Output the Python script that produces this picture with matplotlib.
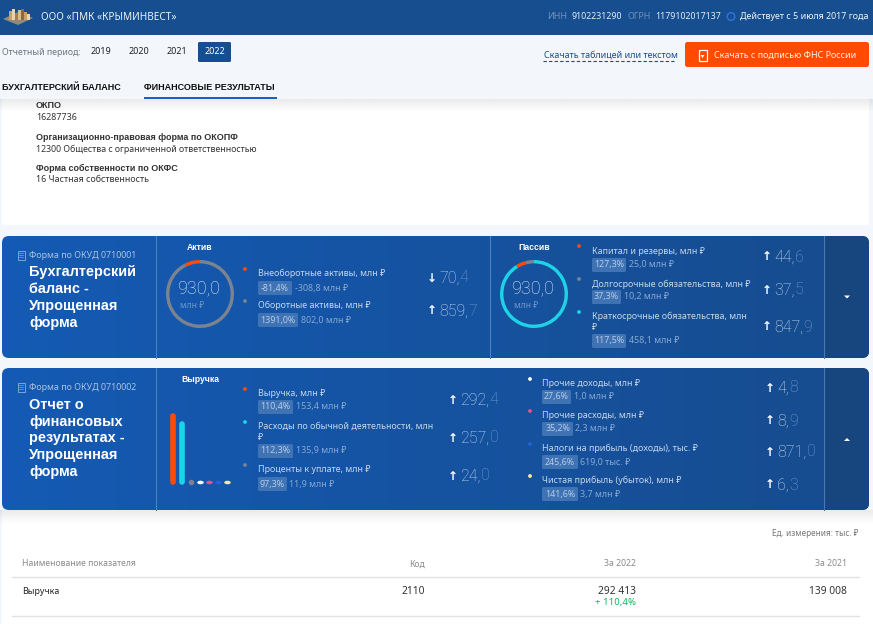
import numpy as np
import matplotlib
matplotlib.use("Agg")
import matplotlib.pyplot as plt
from matplotlib.patches import Rectangle, FancyBboxPatch, Polygon, Circle
from matplotlib.path import Path
from matplotlib.transforms import Affine2D

W, H = 873, 624
BODY = ['Noto Sans', 'DejaVu Sans']
BOLD = ['Liberation Sans', 'DejaVu Sans']
THIN = ['Roboto', 'DejaVu Sans']

# ---------- data ----------
company = "ООО «ПМК «КРЫМИНВЕСТ»"
inn = "9102231290"
ogrn = "1179102017137"
active_since = "Действует с 5 июля 2017 года"
years = ["2019", "2020", "2021", "2022"]

asset_values = [70.4, 859.7]
asset_colors = ['#ff4a0a', '#7c8390']
liab_values = [37.5, 44.6, 847.9]
liab_colors = ['#7c8390', '#ff4a0a', '#1fd3e6']
balance_total = "930,0"

asset_rows = [
    ("Внеоборотные активы, млн ₽", "-81,4%", "-308,8 млн ₽", "70,4", "↓"),
    ("Оборотные активы, млн ₽", "1391,0%", "802,0 млн ₽", "859,7", "↑"),
]
liab_rows = [
    ("Капитал и резервы, млн ₽", "127,3%", "25,0 млн ₽", "44,6", "↑"),
    ("Долгосрочные обязательства, млн ₽", "37,3%", "10,2 млн ₽", "37,5", "↑"),
    ("Краткосрочные обязательства, млн\n₽", "117,5%", "458,1 млн ₽", "847,9", "↑"),
]
pnl_rows_left = [
    ("Выручка, млн ₽", "110,4%", "153,4 млн ₽", "292,4", "↑"),
    ("Расходы по обычной деятельности, млн\n₽", "112,3%", "135,9 млн ₽", "257,0", "↑"),
    ("Проценты к уплате, млн ₽", "97,3%", "11,9 млн ₽", "24,0", "↑"),
]
pnl_rows_right = [
    ("Прочие доходы, млн ₽", "27,6%", "1,0 млн ₽", "4,8", "↑"),
    ("Прочие расходы, млн ₽", "35,2%", "2,3 млн ₽", "8,9", "↑"),
    ("Налоги на прибыль (доходы), тыс. ₽", "245,6%", "619,0 тыс. ₽", "871,0", "↑"),
    ("Чистая прибыль (убыток), млн ₽", "141,6%", "3,7 млн ₽", "6,3", "↑"),
]
pnl_values = [292.4, 257.0, 24.0, 4.8, 8.9, 0.871, 6.3]
pnl_colors = ['#ff4a0a', '#1fd3e6', '#7c8390', '#ffffff', '#e8508f', '#2461dc', '#f4ee9a']

table_header = ["Наименование показателя", "Код", "За 2022", "За 2021"]
table_row = ["Выручка", "2110", "292 413", "139 008"]
table_delta = "+ 110,4%"

# ---------- canvas ----------
fig = plt.figure(figsize=(W / 100, H / 100), dpi=100, facecolor='#f3f6fb')
ax = fig.add_axes([0, 0, 1, 1])
ax.set_xlim(0, W)
ax.set_ylim(H, 0)
ax.axis('off')
renderer = fig.canvas.get_renderer()


def px(s):
    return s * 0.72


def T(x, y, s, size=9, color='#333333', ha='left', weight='normal', family=None, z=10, **kw):
    if family is None:
        family = BOLD if weight == 'bold' else BODY
    return ax.text(x, y, s, fontsize=px(size), color=color, ha=ha, va='center',
                   fontweight=weight, family=family, zorder=z, **kw)


def rect(x0, y0, x1, y1, color, z=1, **kw):
    r = Rectangle((x0, y0), x1 - x0, y1 - y0, facecolor=color, edgecolor='none', zorder=z, **kw)
    ax.add_patch(r)
    return r


def rrect(x0, y0, x1, y1, color, rad=2, z=2, **kw):
    r = FancyBboxPatch((x0 + rad, y0 + rad), x1 - x0 - 2 * rad, y1 - y0 - 2 * rad,
                       boxstyle=f"round,pad={rad},rounding_size={rad}",
                       facecolor=color, edgecolor='none', zorder=z, **kw)
    ax.add_patch(r)
    return r


def shadow(x0, x1, y0, y1, z=1.5, a=0.10):
    g = np.linspace(a, 0, 32).reshape(-1, 1)
    rgba = np.zeros((32, 1, 4))
    rgba[..., :3] = 0.2
    rgba[..., 3] = g
    ax.imshow(rgba, extent=[x0, x1, y1, y0], aspect='auto', zorder=z, interpolation='bilinear')


def inset(x, y, w, h):
    a = fig.add_axes([x / W, 1 - (y + h) / H, w / W, h / H])
    a.patch.set_alpha(0)
    a.axis('off')
    a.set_zorder(5)
    return a


# ---------- backgrounds ----------
rect(2, 99, 869, 225, 'white', z=1)
rect(2, 510, 873, 624, 'white', z=1)
rect(0, 0, W, 35, '#164e90', z=3)
rect(0, 35, W, 99, '#f3f6fb', z=3)
shadow(0, W, 99, 112, z=3)
shadow(0, W, 510, 524, z=3)

# logo
ax.add_patch(Polygon([[3, 19], [18, 12], [33, 18], [18, 25]], facecolor='#8f8a7d', edgecolor='none', zorder=4))
for lx, top, c in zip([9, 12, 15, 18, 21, 24, 27], [11, 9, 13, 10, 9, 12, 14],
                      ['#c9a06a', '#e8d5b0', '#a67c4a', '#d8bd8a', '#8a6a42', '#c9a06a', '#e8d5b0']):
    rect(lx, top, lx + 2.6, 20, c, z=4.2)

# header
T(41, 17, company, 10, '#eaf0f8', z=6)
T(547, 16.5, "ИНН", 8.9, '#6f8fb8', z=6)
T(571, 16.5, inn, 8.8, '#e4ebf5', z=6)
T(628, 16.5, "ОГРН", 8.9, '#6f8fb8', z=6)
T(655, 16.5, ogrn, 8.8, '#e4ebf5', z=6)
ax.add_patch(Circle((731, 16.5), 3.8, facecolor='none', edgecolor='#2f6fe0', lw=1.1, zorder=6))
T(740, 16.5, active_since, 8.9, '#f0f4fa', z=6)

# period selector
T(2, 52.5, "Отчетный период:", 8.8, '#6c7480', z=6)
rrect(198, 42, 231, 62, '#164e90', rad=1.5, z=6)
for cx, y_s in zip([101, 139, 177, 215], years):
    T(cx, 52, y_s, 9, 'white' if y_s == years[-1] else '#222222', ha='center', z=7)

T(2, 87, "БУХГАЛТЕРСКИЙ БАЛАНС", 9, '#111111', weight='bold', z=6)
T(144, 87, "ФИНАНСОВЫЕ РЕЗУЛЬТАТЫ", 9, '#111111', weight='bold', z=6)
rect(144, 97, 277, 99, '#1565c0', z=6)

# download actions
T(543.5, 55, "Скачать таблицей или текстом", 8.9, '#164e90', z=6)
ax.plot([543, 674], [60.5, 60.5], color='#164e90', lw=0.8, ls=(0, (3, 2)), zorder=6)
rrect(685, 42, 869, 67, '#ff4a00', rad=2.5, z=6)
T(713.5, 55, "Скачать с подписью ФНС России", 8.9, '#fff3ec', z=7)
ax.add_patch(Rectangle((698.5, 50), 8, 10.5, facecolor='none', edgecolor='white', lw=0.9, zorder=7))
ax.add_patch(Polygon([[700.5, 55], [704.5, 55], [702.5, 58]], facecolor='white', edgecolor='none', zorder=7))

# company details
T(36, 105, "ОКПО", 9, '#333333', weight='bold', z=2)
T(36, 118, "16287736", 8.9, '#333333', z=2)
T(36, 137, "Организационно-правовая форма по ОКОПФ", 9, '#333333', weight='bold', z=2)
T(36, 149, "12300 Общества с ограниченной ответственностью", 8.8, '#333333', z=2)
T(36, 168, "Форма собственности по ОКФС", 9, '#333333', weight='bold', z=2)
T(36, 180, "16 Частная собственность", 8.9, '#333333', z=2)


# ---------- panels ----------
def panel(y0, y1, okud, okud_y, title_lines, title_ys, tri_up):
    grad = np.linspace(0, 1, 256).reshape(1, -1, 1)
    left = np.array([0x14, 0x5a, 0xb4]) / 255
    right = np.array([0x17, 0x4c, 0x8e]) / 255
    img = left + (right - left) * grad
    im = ax.imshow(img, extent=[2, 869, y1, y0], aspect='auto', zorder=2, interpolation='bilinear')
    clip = rrect(2, y0, 869, y1, 'none', rad=7, z=2)
    im.set_clip_path(clip)
    dk = rect(824, y0, 869, y1, '#17457e', z=2.2)
    dk.set_clip_path(clip)
    ax.plot([156, 156], [y0, y1], color='#4f7fbd', lw=0.8, zorder=2.5)
    ax.plot([824, 824], [y0, y1], color='#4a78b0', lw=0.8, zorder=2.5)
    ax.add_patch(Rectangle((17.5, okud_y - 4.5), 7, 9, facecolor='none', edgecolor='#7fa3d2', lw=0.7, zorder=3))
    for dy in (-2, 0, 2):
        ax.plot([19, 23], [okud_y + dy] * 2, color='#7fa3d2', lw=0.5, zorder=3)
    T(29, okud_y, okud, 8.9, '#a9c3e4')
    for ln, ty in zip(title_lines, title_ys):
        T(29, ty, ln, 14.5, 'white', weight='bold')
    cy = (y0 + y1) / 2
    if tri_up:
        ax.add_patch(Polygon([[844, cy + 2], [850, cy + 2], [847, cy - 1]], facecolor='white', edgecolor='none', zorder=4))
    else:
        ax.add_patch(Polygon([[844, cy - 1.5], [850, cy - 1.5], [847, cy + 1.5]], facecolor='white', edgecolor='none', zorder=4))


def big(x_arrow, x_num, y, value, arrow):
    T(x_arrow, y, arrow, 12, '#ffffff', ha='center', weight='bold', family=['DejaVu Sans'])
    head, tail = value[:-1], value[-1]
    t = T(x_num, y, head, 16, '#c9d9ee', family=THIN, weight='light')
    ext = t.get_window_extent(renderer=renderer)
    x_end = ax.transData.inverted().transform((ext.x1, ext.y0))[0]
    T(x_end + 0.3, y, tail, 16, '#6e98cc', family=THIN, weight='light')


def row(dot_x, dot_y, dot_color, lab_x, lab_y, row_data, pill_y, pill_w, val_x, big_y, arrow_x, num_x):
    label, pct, delta, value, arrow = row_data
    ax.add_patch(Circle((dot_x, dot_y), 1.9, facecolor=dot_color, edgecolor='none', zorder=5))
    parts = label.split('\n')
    for i, p in enumerate(parts):
        T(lab_x, lab_y + i * 11.5, p, 8.9, '#c5d6ec')
    rrect(lab_x, pill_y, lab_x + pill_w, pill_y + 14, '#3f73b4', rad=1.5, z=3)
    T(lab_x + pill_w / 2, pill_y + 7, pct, 8.9, '#b5cbe6', ha='center')
    T(val_x, pill_y + 7, delta, 8.9, '#86a8d2')
    big(arrow_x, num_x, big_y, value, arrow)


panel(236, 358, "Форма по ОКУД 0710001", 255,
      ["Бухгалтерский", "баланс -", "Упрощенная", "форма"], [272, 289, 306, 323], False)
panel(368, 510, "Форма по ОКУД 0710002", 387,
      ["Отчет о", "финансовых", "результатах -", "Упрощенная", "форма"], [405, 422, 438, 455, 472], True)
ax.plot([490, 490], [236, 358], color='#4f7fbd', lw=0.8, zorder=2.5)

T(200, 248, "Актив", 8.6, 'white', ha='center', weight='bold')
T(534, 247.5, "Пассив", 8.6, 'white', ha='center', weight='bold')
T(200, 380, "Выручка", 8.6, 'white', ha='center', weight='bold')


def donut(cx, cy, values, colors):
    r = 34
    a = inset(cx - r, cy - r, 2 * r, 2 * r)
    a.pie(values, colors=colors, startangle=90, counterclock=True, radius=1.0,
          wedgeprops=dict(width=0.1, edgecolor='none'))
    a.set_xlim(-1.0, 1.0)
    a.set_ylim(-1.0, 1.0)


donut(200, 294, asset_values, asset_colors)
donut(534, 294, liab_values, liab_colors)
for cx, lx in ((199, 180), (533, 514)):
    T(cx, 288, balance_total, 18, '#dfe8f5', ha='center', family=THIN, weight='light', z=8)
    T(lx, 305.5, "млн ₽", 8.6, '#6d97cb', z=8)

# rows: balance
for r_d, dy, ly, py, pw, vx, by, c in zip(asset_rows, [269, 301], [273, 305.5], [281, 313], [34, 40],
                                          [295, 301], [278, 311], asset_colors):
    row(245, dy, c, 258, ly, r_d, py, pw, vx, by, 432, 439)
for r_d, dy, ly, py, pw, vx, by, c in zip(liab_rows, [246, 279, 312], [252, 284, 316], [258, 290, 334],
                                          [34, 29, 34], [629, 624, 629], [257, 290, 327],
                                          ['#ff4a0a', '#7c8390', '#1fd3e6']):
    row(579, dy, c, 592, ly, r_d, py, pw, vx, by, 767, 774)

# rows: P&L
for r_d, dy, ly, py, pw, vx, by, c in zip(pnl_rows_left, [389, 422, 465], [394, 426, 470], [400, 444, 477],
                                          [35, 35, 29], [296, 296, 289], [400, 438, 476],
                                          pnl_colors[:3]):
    row(245, dy, c, 258, ly, r_d, py, pw, vx, by, 453, 460)
for r_d, dy, ly, py, pw, vx, by, c in zip(pnl_rows_right, [379, 411, 444, 476], [384, 416, 448, 480],
                                          [390, 422, 455, 487], [29, 31, 36, 36], [574, 575, 580, 580],
                                          [388, 421, 452, 485], pnl_colors[3:]):
    row(530, dy, c, 542, ly, r_d, py, pw, vx, by, 770, 777)

# P&L bars
bar_ax = inset(168, 410, 64, 76)
bar_ax.set_xlim(-0.55, 6.55)
bar_ax.set_ylim(-292.4 * 4 / 66, 292.4 * 72 / 66)
xs = np.arange(len(pnl_values))
pill = Path.unit_circle().transformed(Affine2D().scale(1, 0.55))
for x, v, c in zip(xs, pnl_values, pnl_colors):
    if v > 100:
        bar_ax.vlines(x, 0, v, colors=c, linewidth=px(5.6), capstyle='round')
    elif v > 20:
        bar_ax.plot([x], [0], marker='o', ms=px(5.5), color=c, mew=0)
    else:
        bar_ax.plot([x], [0], marker=pill, ms=px(6.5), color=c, mew=0)

# ---------- table ----------
T(859, 533, "Ед. измерения: тыс. ₽", 8.2, '#777777', ha='right', z=4)
T(22, 564, table_header[0], 8.6, '#8a8a8a', z=4)
for xr, s in zip([425, 636, 847], table_header[1:]):
    T(xr, 564, s, 8.6, '#8a8a8a', ha='right', z=4)
ax.plot([12, 859], [576.5, 576.5], color='#e2e2e2', lw=1, zorder=4)
T(22, 591, table_row[0], 8.8, '#222222', z=4)
for xr, s in zip([425, 636, 847], table_row[1:]):
    T(xr, 591, s, 10.2, '#333333', ha='right', z=4)
T(636, 603, table_delta, 9.6, '#19b765', ha='right', z=4)
ax.plot([12, 859], [615.5, 615.5], color='#e2e2e2', lw=1, zorder=4)

fig.savefig('out.png', dpi=100, facecolor=fig.get_facecolor())
